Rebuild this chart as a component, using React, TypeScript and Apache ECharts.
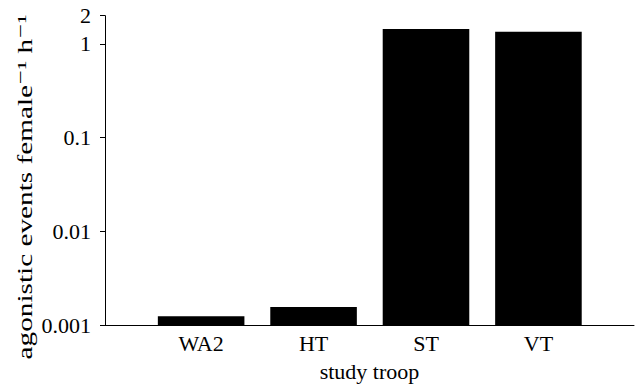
import React, { useEffect, useRef } from "react";
import * as echarts from "echarts";

const categories = ["WA2", "HT", "ST", "VT"];
const rates = [0.00124, 0.00156, 1.44, 1.35];
const yTicks = [0.001, 0.01, 0.1, 1, 2];

const FONT = "'Liberation Serif', 'Times New Roman', 'DejaVu Serif', serif";

export default function App() {
  const ref = useRef<HTMLDivElement>(null);
  useEffect(() => {
    document.body.style.margin = "0";
    if (!ref.current) return;
    const chart = echarts.init(ref.current, null, { renderer: "svg" });
    chart.setOption({
      animation: false,
      backgroundColor: "#fff",
      grid: { left: 105, right: 2, top: 15.7, bottom: 58, containLabel: false },
      xAxis: {
        type: "value",
        min: -0.855,
        max: 3.85,
        axisLine: { show: true, onZero: false, lineStyle: { color: "#000", width: 1 } },
        axisTick: { show: false },
        splitLine: { show: false },
        axisLabel: {
          customValues: [0, 1, 2, 3],
          formatter: (v: number) => categories[Math.round(v)] ?? "",
          color: "#000",
          fontFamily: FONT,
          fontSize: 22,
          margin: 7,
        },
        name: "study troop",
        nameLocation: "middle",
        nameGap: 35,
        nameTextStyle: { color: "#000", fontFamily: FONT, fontSize: 22 },
      },
      yAxis: {
        type: "log",
        logBase: 10,
        min: 0.001,
        max: 2,
        axisLine: { show: true, onZero: false, lineStyle: { color: "#000", width: 1 } },
        axisTick: { show: true, length: 5, customValues: yTicks, lineStyle: { color: "#000" } },
        minorTick: { show: false },
        splitLine: { show: false },
        axisLabel: {
          customValues: yTicks,
          formatter: (v: number) => String(v),
          color: "#000",
          fontFamily: FONT,
          fontSize: 22,
          margin: 14,
        },
      },
      graphic: [
        {
          type: "text",
          x: 25,
          y: 187,
          rotation: Math.PI / 2,
          scaleX: 1.33,
          style: {
            text: "agonistic events female\u207B\u00B9 h\u207B\u00B9",
            fontFamily: FONT,
            fontSize: 22,
            fill: "#000",
            align: "center",
            verticalAlign: "middle",
          },
        },
      ],
      series: [
        {
          type: "custom",
          data: rates.map((v, i) => [i, v]),
          renderItem: (params: any, api: any) => {
            const i = api.value(0);
            const v = api.value(1);
            const top = api.coord([i, v]);
            const base = api.coord([i, 0.001]);
            const w = api.size([0.77, 0])[0];
            return {
              type: "rect",
              shape: { x: top[0] - w / 2, y: top[1], width: w, height: base[1] - top[1] },
              style: { fill: "#000" },
            };
          },
        },
      ],
    });
    return () => chart.dispose();
  }, []);
  return <div ref={ref} style={{ width: 636, height: 387 }} />;
}
